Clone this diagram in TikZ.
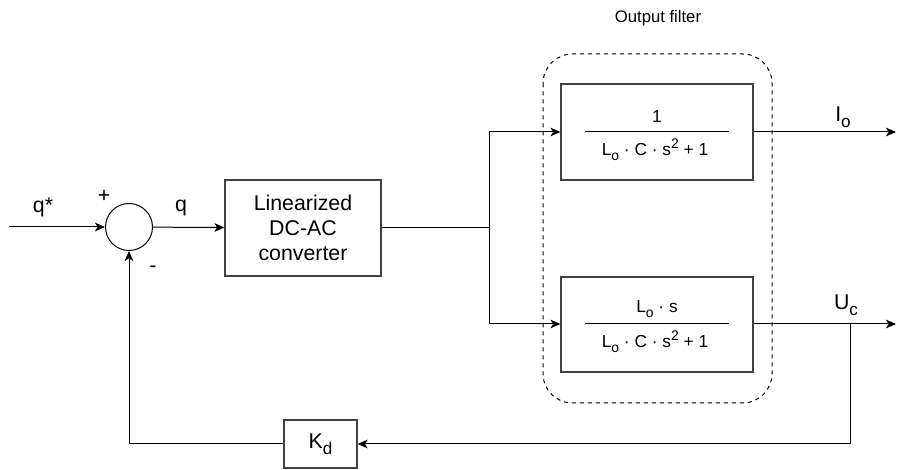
\documentclass[tikz,border=0pt]{standalone}
\usepackage{fontspec}
\setmainfont{Liberation Sans}
\usetikzlibrary{arrows.meta}
\newcommand\sbs[1]{\raisebox{-0.28em}{\scalebox{0.8}{#1}}}
\newcommand\sps[1]{\raisebox{0.42em}{\scalebox{0.8}{#1}}}
\begin{document}
\begin{tikzpicture}[x=0.75pt,y=-0.75pt,
  line width=0.75pt,
  blk/.style={draw=black!75, line width=0.9pt, rectangle, inner sep=0pt, align=center, font=\fontsize{16}{19}\selectfont},
  sumc/.style={draw, circle, minimum size=35.25pt, inner sep=0pt},
  lbl/.style={inner sep=0pt, font=\fontsize{16}{19}\selectfont},
  frac/.style={inner sep=0pt, font=\fontsize{13}{15}\selectfont},
  arr/.style={-{Stealth[length=7.5pt,width=6.5pt,inset=2pt]}}]
\useasboundingbox (0,0) rectangle (908,470);
% dashed group
\draw[dashed, line width=0.75pt, rounded corners=22pt] (543,54) rectangle (772,403);
\node[inner sep=0pt, font=\fontsize{12.5}{15}\selectfont] (of) at (658,18) {Output filter};
% blocks
\coordinate (in) at (9,227);
\node[sumc] (sum) at (129,227) {};
\node[blk, minimum width=117pt, minimum height=72pt] (conv) at (303,228) {Linearized\\DC-AC\\converter};
\node[blk, minimum width=144pt, minimum height=72pt] (tf1) at (657,132) {};
\node[blk, minimum width=144pt, minimum height=71.25pt] (tf2) at (657,324.5) {};
\node[blk, minimum width=54.75pt, minimum height=36pt] (kd) at (320.5,444) {K\sbs{d}};
% fractions
\draw (585,132) -- (729,132);
\draw (585,324) -- (729,324);
\node[frac] (n1) at (657,117) {1};
\node[frac] (d1) at (655,150) {L\sbs{o} · C · s\sps{2} + 1};
\node[frac] (n2) at (657,309) {L\sbs{o} · s};
\node[frac] (d2) at (655,342) {L\sbs{o} · C · s\sps{2} + 1};
% branch points
\coordinate (br) at (489,228);
\coordinate (brt) at (489,132);
\coordinate (brb) at (489,324);
\coordinate (o1) at (896,132);
\coordinate (o2) at (896,324);
\coordinate (fb) at (850,324);
\coordinate (fbd) at (850,444);
\coordinate (fbl) at (129,444);
% connectors
\draw[arr] (in) -- (sum);
\draw[arr] (sum) -- (conv);
\draw (conv.east) -- (br);
\draw[arr] (brt) -- (tf1.west);
\draw[arr] (brb) -- (tf2.west |- brb);
\draw (brt) -- (brb);
\draw[arr] (tf1.east) -- (o1);
\draw[arr] (tf2.east |- o2) -- (o2);
\draw[arr] (fb) -- (fbd) -- (kd.east);
\draw[arr] (kd.west) -- (fbl) -- (sum.south);
% labels
\node[lbl] (lq1) at (43,207) {q*};
\node[lbl] (lp) at (104,196) {+};
\node[lbl] (lq) at (181,208) {q};
\node[lbl] (lm) at (153,269) {-};
\node[lbl] (lio) at (843,117) {I\sbs{o}};
\node[lbl] (luc) at (846,305) {U\sbs{c}};
\end{tikzpicture}
\end{document}
